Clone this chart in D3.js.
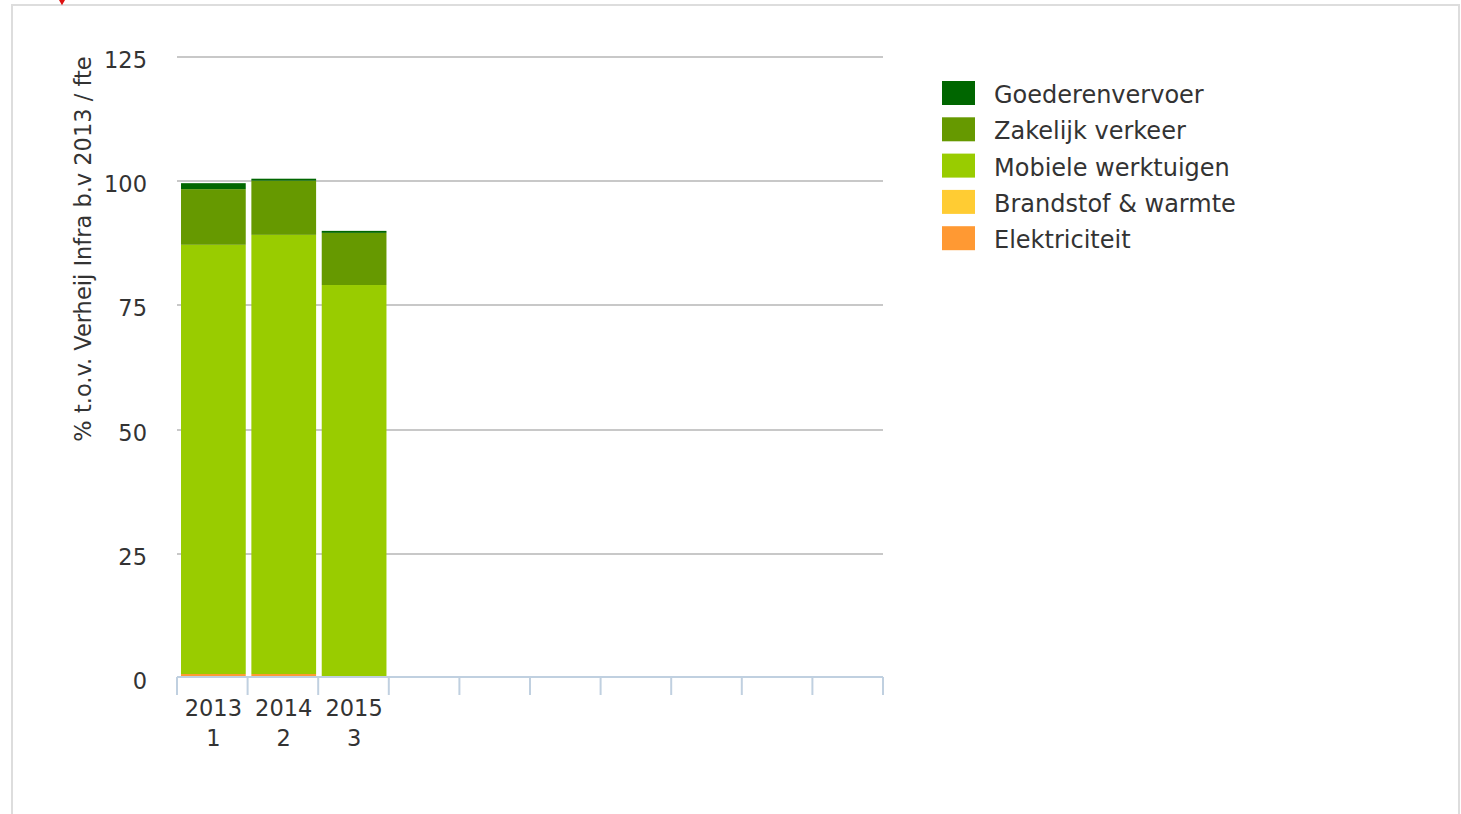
<!DOCTYPE html>
<html>
<head>
<meta charset="utf-8">
<script src="https://cdn.jsdelivr.net/npm/d3@7"></script>
<style>
  body { margin: 0; background: #fff; font-family: "DejaVu Sans", sans-serif; }
  svg { display: block; }
</style>
</head>
<body>
<svg id="chart" width="1461" height="814"></svg>
<script>
// categories (10 slots on the x axis, only the first three have data)
const categories = ["c1", "c2", "c3", "c4", "c5", "c6", "c7", "c8", "c9", "c10"];
const yearLabels = ["2013", "2014", "2015", "", "", "", "", "", "", ""];
const indexLabels = ["1", "2", "3", "", "", "", "", "", "", ""];

// series, bottom to top
const seriesNames = ["Elektriciteit", "Brandstof & warmte", "Mobiele werktuigen", "Zakelijk verkeer", "Goederenvervoer"];
const seriesColors = ["#ff9933", "#ffcc33", "#99cc00", "#669900", "#006600"];
const elektriciteit = [0.6, 0.6, 0.15];
const brandstof = [0, 0, 0];
const mobiele = [86.4, 88.4, 78.75];
const zakelijk = [11.2, 10.9, 10.5];
const goederen = [1.2, 0.4, 0.4];

const yTicks = [0, 25, 50, 75, 100, 125];
const yTitle = "% t.o.v. Verheij Infra b.v 2013 / fte";

const svg = d3.select("#chart");

// outer frame
svg.append("rect")
  .attr("x", 12).attr("y", 5)
  .attr("width", 1447).attr("height", 830)
  .attr("fill", "none")
  .attr("stroke", "#dddddd")
  .attr("stroke-width", 2);

// small red marker at the top
svg.append("path")
  .attr("d", d3.symbol().type(d3.symbolDiamond).size(60)())
  .attr("transform", "translate(62,-2)")
  .attr("fill", "#dd1111");

const margin = { left: 177, top: 56, right: 883, bottom: 677 };

const x = d3.scaleBand()
  .domain(categories)
  .range([margin.left, margin.right])
  .paddingInner(0.08)
  .paddingOuter(0.057);

const y = d3.scaleLinear().domain([0, 125]).range([margin.bottom, margin.top]);

// gridlines
svg.append("g")
  .selectAll("line")
  .data(yTicks.filter((d) => d > 0))
  .enter()
  .append("line")
  .attr("x1", margin.left)
  .attr("x2", margin.right)
  .attr("y1", (d) => Math.round(y(d)) + 1)
  .attr("y2", (d) => Math.round(y(d)) + 1)
  .attr("stroke", "#c8c8c8")
  .attr("stroke-width", 2);

// y tick labels
svg.append("g")
  .selectAll("text")
  .data(yTicks)
  .enter()
  .append("text")
  .attr("x", 147)
  .attr("y", (d) => y(d) + 12)
  .attr("text-anchor", "end")
  .attr("fill", "#333")
  .style("font-size", "22.5px")
  .text((d) => d);

// y title
svg.append("text")
  .attr("transform", "translate(91,249) rotate(-90)")
  .attr("text-anchor", "middle")
  .attr("fill", "#333")
  .style("font-size", "22.5px")
  .text(yTitle);

// stacked bars
const rows = categories.slice(0, 3).map((c, i) => ({
  cat: c,
  "Elektriciteit": elektriciteit[i],
  "Brandstof & warmte": brandstof[i],
  "Mobiele werktuigen": mobiele[i],
  "Zakelijk verkeer": zakelijk[i],
  "Goederenvervoer": goederen[i],
}));
const stacked = d3.stack().keys(seriesNames)(rows);

svg.append("g")
  .selectAll("g")
  .data(stacked)
  .enter()
  .append("g")
  .attr("fill", (d, i) => seriesColors[i])
  .selectAll("rect")
  .data((d) => d)
  .enter()
  .append("rect")
  .attr("x", (d) => x(d.data.cat))
  .attr("width", x.bandwidth())
  .attr("y", (d) => y(d[1]))
  .attr("height", (d) => y(d[0]) - y(d[1]));

// x axis line and ticks
const axisColor = "#c0d0e0";
svg.append("line")
  .attr("x1", margin.left).attr("x2", margin.right)
  .attr("y1", margin.bottom).attr("y2", margin.bottom)
  .attr("stroke", axisColor).attr("stroke-width", 2);

const tickXs = d3.range(categories.length + 1).map((i) => margin.left + i * (margin.right - margin.left) / categories.length);
svg.append("g")
  .selectAll("line")
  .data(tickXs)
  .enter()
  .append("line")
  .attr("x1", (d) => d).attr("x2", (d) => d)
  .attr("y1", margin.bottom).attr("y2", margin.bottom + 18)
  .attr("stroke", axisColor).attr("stroke-width", 2);

// x labels (two lines)
const xl = svg.append("g")
  .selectAll("text")
  .data(categories.filter((c, i) => yearLabels[i] !== ""))
  .enter()
  .append("text")
  .attr("text-anchor", "middle")
  .attr("fill", "#333")
  .style("font-size", "22.5px");
xl.append("tspan")
  .attr("x", (d) => x(d) + x.bandwidth() / 2)
  .attr("y", 716)
  .text((d) => yearLabels[categories.indexOf(d)]);
xl.append("tspan")
  .attr("x", (d) => x(d) + x.bandwidth() / 2)
  .attr("y", 746)
  .text((d) => indexLabels[categories.indexOf(d)]);

// legend (top series first)
const legendOrder = seriesNames.map((n, i) => ({ name: n, color: seriesColors[i] })).reverse();
const legend = svg.append("g")
  .selectAll("g")
  .data(legendOrder)
  .enter()
  .append("g")
  .attr("transform", (d, i) => `translate(942,${81 + i * 36.3})`);
legend.append("rect")
  .attr("width", 33).attr("height", 24)
  .attr("fill", (d) => d.color);
legend.append("text")
  .attr("x", 52).attr("y", 22)
  .attr("fill", "#333")
  .style("font-size", "24px")
  .text((d) => d.name);
</script>
</body>
</html>
